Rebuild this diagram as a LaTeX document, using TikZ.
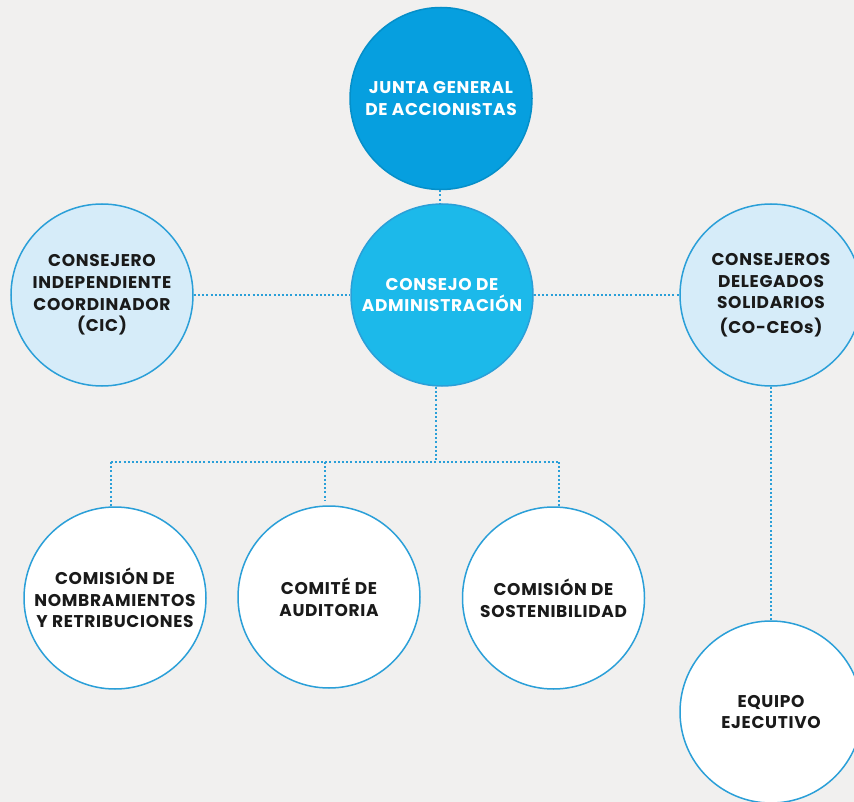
\documentclass[tikz,border=0pt]{standalone}
\usepackage{fontspec}
\setmainfont{Poppins}[LetterSpace=4]
\definecolor{bgc}{HTML}{F1F0EF}
\definecolor{darkb}{HTML}{069FDF}
\definecolor{midb}{HTML}{1CB9EA}
\definecolor{lightb}{HTML}{D6ECF9}
\definecolor{edgeb}{HTML}{2A9FD8}
\definecolor{txt}{HTML}{1A1A1A}
\begin{document}
\begin{tikzpicture}[x=1pt,y=-1pt,
  circ/.style={circle,minimum size=182pt,inner sep=0pt,align=center,
    font=\fontsize{17}{21.7}\selectfont\bfseries,line width=1.5pt},
  topc/.style={circ,fill=darkb,draw=darkb!90!black,text=white},
  boardc/.style={circ,fill=midb,draw=edgeb,text=white},
  lightc/.style={circ,fill=lightb,draw=edgeb,text=txt},
  whitec/.style={circ,fill=white,draw=edgeb,text=txt},
  conn/.style={draw=edgeb,line width=2pt,dash pattern=on 2pt off 2.2pt}]
\useasboundingbox (0,0) rectangle (854,802);
\clip (0,0) rectangle (854,802);
\fill[bgc] (0,0) rectangle (854,802);

\node[topc] (junta) at (441,98.5) {JUNTA GENERAL\\DE ACCIONISTAS};
\node[boardc] (consejo) at (442,295) {CONSEJO DE\\ADMINISTRACIÓN};
\node[lightc] (cic) at (102,295) {CONSEJERO\\INDEPENDIENTE\\COORDINADOR\\(CIC)};
\node[lightc] (ceo) at (771,295) {CONSEJEROS\\DELEGADOS\\SOLIDARIOS\\[2.5pt](CO-CEOs)};
\node[whitec] (nom) at (115,598) {COMISIÓN DE\\NOMBRAMIENTOS\\Y RETRIBUCIONES};
\node[whitec] (aud) at (329,597) {COMITÉ DE\\AUDITORIA};
\node[whitec] (sos) at (553.5,598) {COMISIÓN DE\\SOSTENIBILIDAD};
\node[whitec] (equ) at (771,712) {EQUIPO\\EJECUTIVO};

\coordinate (bmid) at (436,462);
\coordinate (bl) at (111,462);
\coordinate (bc) at (325,462);
\coordinate (br) at (559,462);
\coordinate (ac) at (325,500);

\draw[conn] (junta.south -| 440,0) -- (consejo.north -| 440,0);
\draw[conn] (cic.east) -- (consejo.west);
\draw[conn] (consejo.east) -- (ceo.west);
\draw[conn] (consejo.south -| bmid) -- (bmid);
\draw[conn] (bl) -- (br);
\draw[conn] (bl) -- (nom.north -| bl);
\draw[conn] (bc) -- (ac);
\draw[conn] (br) -- (sos.north -| br);
\draw[conn] (ceo.south) -- (equ.north);
\end{tikzpicture}
\end{document}
